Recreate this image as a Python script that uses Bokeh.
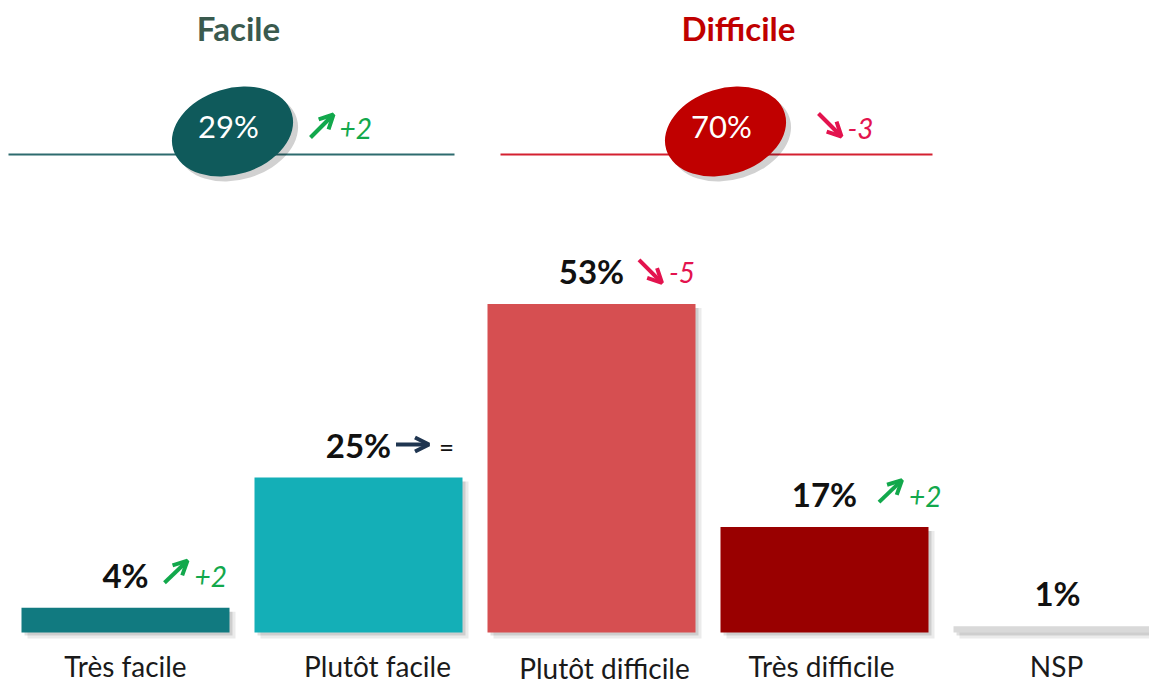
from bokeh.plotting import figure
from bokeh.models import Range1d, Arrow, OpenHead
from bokeh.core.properties import value
from bokeh.embed import file_html
from bokeh.resources import INLINE

# ---------------- data ----------------
categories = ["Très facile", "Plutôt facile", "Plutôt difficile", "Très difficile", "NSP"]
values = [4, 25, 53, 17, 1]
changes = ["+2", "=", "-5", "+2", ""]
trends = ["up", "flat", "down", "up", ""]

groups = ["Facile", "Difficile"]
group_totals = [29, 70]
group_changes = ["+2", "-3"]
group_trends = ["up", "down"]

# ---------------- styles / layout ----------------
bar_colors = ["#117a80", "#14afb7", "#d64f51", "#990000", "#d9d9d9"]
label_nudge = [0, 19, 13, -3, -1]          # px shift of category labels
label_drop = [33, 33, 35, 33, 33]          # px below baseline
arrow_gap = [15, 5, 15, 22, 15]            # px between value label and arrow
trend_colors = {"up": "#12a84c", "down": "#e3134e", "flat": "#1f3550"}
change_text_colors = {"up": "#12a84c", "down": "#e3134e", "flat": "#111111"}

group_colors = ["#0f5a5b", "#c00000"]
group_title_colors = ["#3a5a4e", "#c00000"]
group_line_colors = ["#2d6b6e", "#d42030"]
group_title_x = [238, 738]
group_ell_x = [232, 725]
group_lines = [(8, 454), (500, 932)]
group_arrow_x = [310, 818]

FONT = value("Lato")
W, H = 1149, 683
CAT_PX = 233.0
FIRST_PX = 125.0
BASE_PX = 632.0
PCT_PX = 6.2

x0 = -FIRST_PX / CAT_PX
x1 = x0 + W / CAT_PX
y1 = BASE_PX / PCT_PX
y0 = y1 - H / PCT_PX
ux = (x1 - x0) / W
uy = (y1 - y0) / H

p = figure(width=W, height=H, x_range=Range1d(x0, x1), y_range=Range1d(y0, y1),
           output_backend="svg", toolbar_location=None, min_border=0,
           x_axis_type=None, y_axis_type=None, outline_line_color=None,
           background_fill_color="white", border_fill_color="white")
p.grid.visible = False
p.extra_x_ranges = {"px": Range1d(0, W)}
p.extra_y_ranges = {"px": Range1d(0, H)}


def sy(s):
    return H - s


idx = list(range(len(categories)))

# bar shadows
for off, a in [(6, 0.08), (3, 0.12)]:
    p.vbar(x=[i + off * ux for i in idx], top=[v - 4 * uy for v in values],
           bottom=-off * uy, width=208 * ux, fill_color="black", fill_alpha=a,
           line_color=None)
# bars
p.vbar(x=idx, top=values, bottom=0, width=208 * ux, fill_color=bar_colors,
       line_color=None)

# value labels
label_y = [v + 33 * uy for v in values]
p.text(x=idx, y=label_y, text=[f"{v}%" for v in values], text_align="center",
       text_baseline="middle", text_font=FONT, text_font_style="bold",
       text_font_size="33px", text_color="#111111")

# trend arrows + change labels
for i, (v, ch, tr) in enumerate(zip(values, changes, trends)):
    if not tr:
        continue
    txt = f"{v}%"
    half = (17 * (len(txt) - 1) + 31) / 2
    s = half + arrow_gap[i]
    yc = v + 33 * uy
    if tr == "up":
        xs, ys, xe, ye = s, yc - 8 * uy, s + 23, yc + 14 * uy
    elif tr == "down":
        xs, ys, xe, ye = s, yc + 11 * uy, s + 23, yc - 12 * uy
    else:
        xs, ys, xe, ye = s, yc, s + 33, yc
    c = trend_colors[tr]
    p.add_layout(Arrow(end=OpenHead(size=14, line_width=4, line_color=c),
                       x_start=i + xs * ux, y_start=ys, x_end=i + xe * ux, y_end=ye,
                       line_width=4, line_color=c))
    p.text(x=[i + (xe + (10 if tr == "flat" else 7)) * ux], y=[yc - 2 * uy], text=[ch],
           text_align="left", text_baseline="middle", text_font=FONT,
           text_font_style="normal" if tr == "flat" else "italic",
           text_font_size="26px" if tr == "flat" else "28px",
           text_color=change_text_colors[tr])

# category labels
p.text(x=[i + n * ux for i, n in zip(idx, label_nudge)],
       y=[-d * uy for d in label_drop],
       text=categories, text_align="center", text_baseline="middle",
       text_font=FONT, text_font_size="28px", text_color="#1a1a1a")

# ---------------- top summary ----------------
for g in range(len(groups)):
    lx0, lx1 = group_lines[g]
    p.line(x=[lx0, lx1], y=[sy(154), sy(154)], line_color=group_line_colors[g],
           line_width=2, x_range_name="px", y_range_name="px")
    ex = group_ell_x[g]
    p.ellipse(x=[ex + 5], y=[sy(136)], width=124, height=86, angle=0.3,
              fill_color="black", fill_alpha=0.18, line_color=None,
              x_range_name="px", y_range_name="px")
    p.ellipse(x=[ex], y=[sy(131)], width=124, height=86, angle=0.3,
              fill_color=group_colors[g], line_color=None,
              x_range_name="px", y_range_name="px")
    p.text(x=[ex - 4], y=[sy(125)], text=[f"{group_totals[g]}%"], text_align="center",
           text_baseline="middle", text_font=FONT, text_font_size="31px",
           text_color="white", x_range_name="px", y_range_name="px")
    p.text(x=[group_title_x[g]], y=[sy(27)], text=[groups[g]], text_align="center",
           text_baseline="middle", text_font=FONT, text_font_style="bold",
           text_font_size="33px", text_color=group_title_colors[g],
           x_range_name="px", y_range_name="px")
    tr = group_trends[g]
    ax = group_arrow_x[g]
    if tr == "up":
        ys, ye = sy(137), sy(114)
    else:
        ys, ye = sy(113), sy(136)
    c = trend_colors[tr]
    p.add_layout(Arrow(end=OpenHead(size=14, line_width=4, line_color=c),
                       x_start=ax, y_start=ys, x_end=ax + 23, y_end=ye,
                       line_width=4, line_color=c,
                       x_range_name="px", y_range_name="px"))
    p.text(x=[ax + 29], y=[sy(128)], text=[group_changes[g]], text_align="left",
           text_baseline="middle", text_font=FONT, text_font_style="italic",
           text_font_size="28px", text_color=change_text_colors[tr],
           x_range_name="px", y_range_name="px")

open("out.html", "w").write(file_html(p, INLINE))
